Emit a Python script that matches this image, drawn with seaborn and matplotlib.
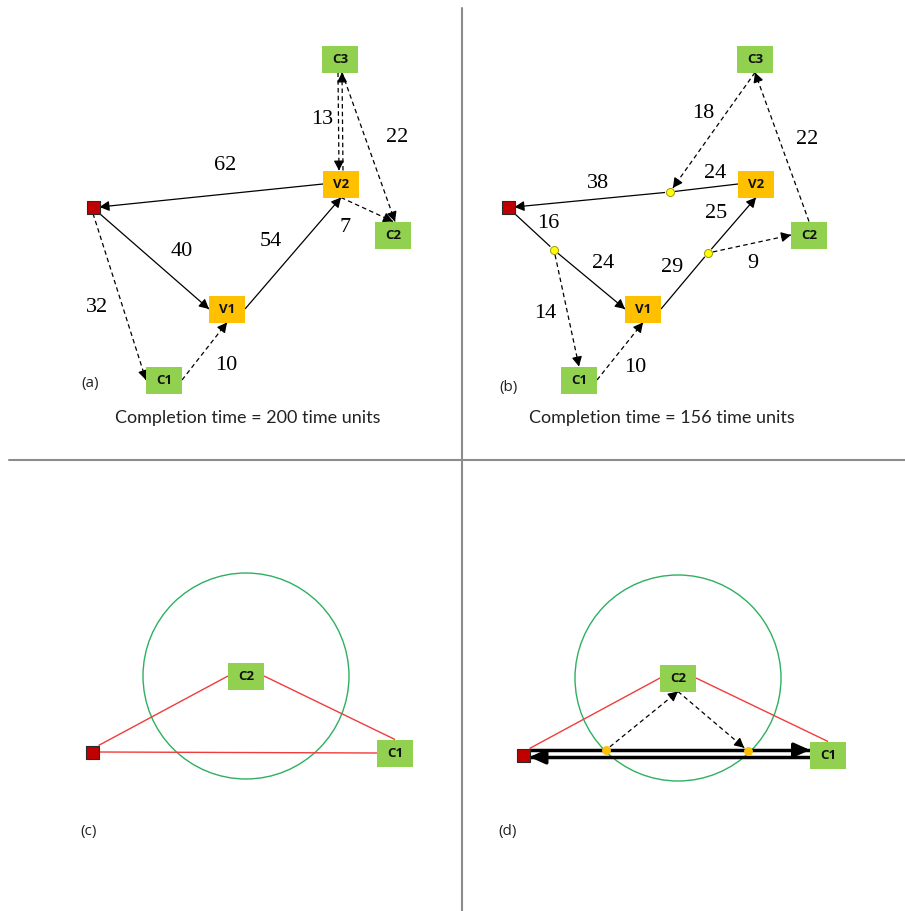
import numpy as np
import pandas as pd
import matplotlib
matplotlib.use("Agg")
import matplotlib.pyplot as plt
from matplotlib.patches import Rectangle, Circle, FancyArrowPatch
import seaborn as sns

sns.set_theme(style="white")
plt.rcParams["font.family"] = ["Lato", "DejaVu Sans"]

# ---------------------------------------------------------------- data
# (a) truck route with one drone, completion time 200
a_names = ["D", "V1", "V2", "C1", "C2", "C3"]
a_x = [93, 227, 341, 164, 393, 340]
a_y = [207, 309, 184, 380, 235, 59]
a_from = ["V2.l", "D.br", "V1.r", "D.b", "C1.r", "V2.t", "C3.b", "C3.b", "V2.b"]
a_to = ["D.r", "V1.l", "V2.b", "C1.l", "V1.b", "C3.b", "V2.t", "C2.t", "C2.t"]
a_dashed = [False, False, False, True, True, True, True, True, True]
a_head = [True, True, True, True, True, True, True, True, True]
a_weight = ["62", "40", "54", "32", "10", "", "13", "22", "7"]
a_lx = [225, 182, 271, 97, 226, 0, 322, 397, 345]
a_ly = [166, 252, 242, 307, 365, 0, 120, 138, 228]
a_dx = [0, 0, 0, 0, 0, 2, -2, 2, 0]
a_dy = [0] * 9
a_time = 200

# (b) same instance with en-route launch/recovery points, completion time 156
b_names = ["D", "V1", "V2", "C1", "C2", "C3", "P1", "P2", "P3"]
b_x = [508, 643, 756, 579, 809, 755, 670, 554, 708]
b_y = [207, 309, 184, 380, 235, 59, 192, 250, 253]
b_from = ["V2.l", "P1", "D.br", "P2", "V1.r", "P3", "P2", "C1.r", "P3", "C2.t", "C3.b"]
b_to = ["P1", "D.r", "P2", "V1.l", "P3", "V2.b", "C1.t", "V1.b", "C2.l", "C3.b", "P1"]
b_dashed = [False, False, False, False, False, False, True, True, True, True, True]
b_head = [False, True, False, True, False, True, True, True, True, True, True]
b_weight = ["24", "38", "16", "24", "29", "25", "14", "10", "9", "22", "18"]
b_lx = [715, 598, 548, 603, 672, 716, 545, 635, 753, 807, 703]
b_ly = [173, 183, 223, 263, 268, 213, 313, 367, 263, 140, 113]
b_dx = [0] * 11
b_dy = [0] * 11
b_time = 156

# (c) customer C2 inside the drone range circle
c_names = ["D", "C1", "C2"]
c_x = [92, 395, 246]
c_y = [752, 753, 676]
c_links = [("D.tr", "C2.l"), ("C2.r", "C1.t"), ("D.r", "C1.l")]
c_radius = 103

# (d) drone launched and recovered on the depot - C1 leg
d_names = ["D", "C1", "C2", "Y1", "Y2"]
d_x = [523, 828, 678, 606, 748]
d_y = [755, 755, 678, 750, 751]
d_links = [("D.tr", "C2.l"), ("C2.r", "C1.t")]
d_truck_from = ["D.r", "C1.l"]
d_truck_to = ["C1.l", "D.r"]
d_truck_dy = [-5, 2]
d_drone_from = ["Y1", "C2.b"]
d_drone_to = ["C2.b", "Y2"]
d_radius = 103

# ---------------------------------------------------------------- styles
W, H = 905, 911
BOX_W, BOX_H = 36, 27
DEPOT = 13
WAY_R = 4
GREEN = "#92D050"
ORANGE = "#FFC000"
DEPOT_RED = "#C00000"
LINK_RED = "#F03C3C"
RANGE_GREEN = "#2DB060"
DIVIDER = "#8C8C8C"
TEXT = "#222222"
SIDES = {"c": (0, 0), "l": (-1, 0), "r": (1, 0), "t": (0, -1), "b": (0, 1),
         "tl": (-1, -1), "tr": (1, -1), "bl": (-1, 1), "br": (1, 1)}

fig = plt.figure(figsize=(W / 100, H / 100), dpi=100)
ax = fig.add_axes([0, 0, 1, 1])
ax.set_xlim(0, W)
ax.set_ylim(H, 0)
ax.axis("off")


def half_size(name):
    if name == "D":
        return DEPOT / 2, DEPOT / 2
    if name[0] in "PY":
        return 0, 0
    return BOX_W / 2, BOX_H / 2


def anchor(pos, spec):
    name, _, side = spec.partition(".")
    x, y = pos[name]
    hw, hh = half_size(name)
    ox, oy = SIDES[side or "c"]
    return name, x + ox * hw, y + oy * hh


def draw_edge(p0, p1, dashed=False, head=True, lw=0.9, color="black",
              hl=8, hw=0.3, ms=10, z=3):
    (x0, y0), (x1, y1) = p0, p1
    ls = (0, (3.6, 2.6)) if dashed else "-"
    ax.plot([x0, x1], [y0, y1], color=color, lw=lw, ls=ls,
            solid_capstyle="butt", dash_capstyle="butt", zorder=z)
    if head:
        d = np.hypot(x1 - x0, y1 - y0)
        ux, uy = (x1 - x0) / d, (y1 - y0) / d
        ax.add_patch(FancyArrowPatch(
            (x1 - ux * hl, y1 - uy * hl), (x1, y1),
            arrowstyle=f"-|>,head_length={hl / ms * 0.72:.3f},head_width={hw}",
            mutation_scale=ms, color=color, lw=lw, shrinkA=0, shrinkB=0,
            zorder=z + 0.5))


def connect(pos, src, dst, dx=0, dy=0, **kw):
    n0, x0, y0 = anchor(pos, src)
    n1, x1, y1 = anchor(pos, dst)
    # stop short of the small launch / recovery dots
    d = np.hypot(x1 - x0, y1 - y0)
    ux, uy = (x1 - x0) / d, (y1 - y0) / d
    if n0[0] in "PY":
        x0, y0 = x0 + ux * (WAY_R + 1), y0 + uy * (WAY_R + 1)
    if n1[0] in "PY":
        x1, y1 = x1 - ux * (WAY_R + 1), y1 - uy * (WAY_R + 1)
    draw_edge((x0 + dx, y0 + dy), (x1 + dx, y1 + dy), **kw)


def draw_nodes(names, xs, ys, way_color="#FFFF00", way_edge="#8A8A00"):
    depots, ways = [], []
    for n, x, y in zip(names, xs, ys):
        if n == "D":
            depots.append((x, y))
        elif n[0] in "PY":
            ways.append((x, y))
        else:
            fc = ORANGE if n.startswith("V") else GREEN
            ax.add_patch(Rectangle((x - BOX_W / 2, y - BOX_H / 2), BOX_W, BOX_H,
                                   facecolor=fc, edgecolor="none", zorder=5))
            ax.text(x, y + 0.5, n, ha="center", va="center", fontsize=9.5,
                    family=["Open Sans"], fontweight="bold", color="#111111",
                    zorder=6)
    if depots:
        dd = pd.DataFrame(depots, columns=["x", "y"])
        sns.scatterplot(data=dd, x="x", y="y", marker="s", s=(DEPOT * 0.72) ** 2,
                        color=DEPOT_RED, edgecolor="#2a2a2a", linewidth=0.8,
                        ax=ax, zorder=6, legend=False)
    if ways:
        wd = pd.DataFrame(ways, columns=["x", "y"])
        sns.scatterplot(data=wd, x="x", y="y", marker="o",
                        s=(2 * WAY_R * 0.72) ** 2, color=way_color,
                        edgecolor=way_edge, linewidth=0.6, ax=ax, zorder=6,
                        legend=False)


def weights(lx, ly, labels):
    for x, y, t in zip(lx, ly, labels):
        if t:
            ax.text(x, y, t, ha="center", va="center", fontsize=16,
                    family=["Liberation Serif"], color="black", zorder=7)


def panel_tag(x, y, tag):
    ax.text(x, y, tag, ha="center", va="center", fontsize=11,
            family=["Open Sans"], color=TEXT)


# dividers between the four panels
ax.plot([462, 462], [8, H], color=DIVIDER, lw=1.5, zorder=1)
ax.plot([9, W], [460, 460], color=DIVIDER, lw=1.5, zorder=1)

# ---- (a)
pos_a = dict(zip(a_names, zip(a_x, a_y)))
for s, t, dsh, hd, dx, dy in zip(a_from, a_to, a_dashed, a_head, a_dx, a_dy):
    connect(pos_a, s, t, dx=dx, dy=dy, dashed=dsh, head=hd)
draw_nodes(a_names, a_x, a_y)
weights(a_lx, a_ly, a_weight)
panel_tag(90, 383, "(a)")
ax.text(248, 418, f"Completion time = {a_time} time units", ha="center",
        va="center", fontsize=13, color=TEXT)

# ---- (b)
pos_b = dict(zip(b_names, zip(b_x, b_y)))
for s, t, dsh, hd, dx, dy in zip(b_from, b_to, b_dashed, b_head, b_dx, b_dy):
    connect(pos_b, s, t, dx=dx, dy=dy, dashed=dsh, head=hd)
draw_nodes(b_names, b_x, b_y)
weights(b_lx, b_ly, b_weight)
panel_tag(508, 387, "(b)")
ax.text(662, 418, f"Completion time = {b_time} time units", ha="center",
        va="center", fontsize=13, color=TEXT)

# ---- (c)
pos_c = dict(zip(c_names, zip(c_x, c_y)))
ax.add_patch(Circle(pos_c["C2"], c_radius, fill=False, edgecolor=RANGE_GREEN,
                    lw=1.0, zorder=2))
for s, t in c_links:
    connect(pos_c, s, t, head=False, color=LINK_RED, lw=1.0)
draw_nodes(c_names, c_x, c_y)
panel_tag(89, 831, "(c)")

# ---- (d)
pos_d = dict(zip(d_names, zip(d_x, d_y)))
ax.add_patch(Circle(pos_d["C2"], d_radius, fill=False, edgecolor=RANGE_GREEN,
                    lw=1.0, zorder=2))
for s, t in d_links:
    connect(pos_d, s, t, head=False, color=LINK_RED, lw=1.0)
for s, t, dy in zip(d_truck_from, d_truck_to, d_truck_dy):
    connect(pos_d, s, t, dy=dy, head=True, lw=2.5, hl=13, hw=0.3, ms=14, z=4)
for s, t in zip(d_drone_from, d_drone_to):
    connect(pos_d, s, t, dashed=True, head=True)
draw_nodes(d_names, d_x, d_y, way_color=ORANGE, way_edge=ORANGE)
panel_tag(508, 832, "(d)")

fig.savefig("out.png", dpi=100)
